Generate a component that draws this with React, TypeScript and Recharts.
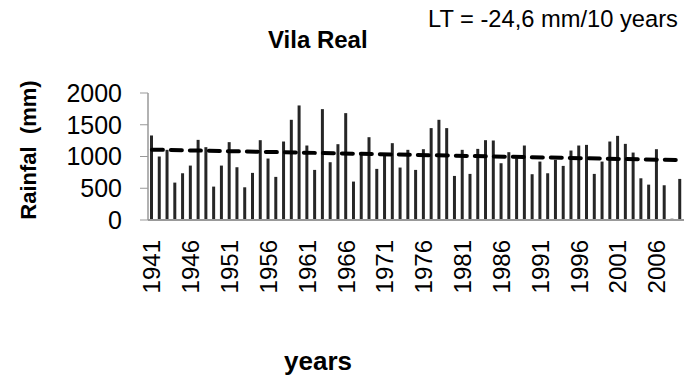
import React from "react";
import { ComposedChart, Bar, Line, XAxis, YAxis } from "recharts";

const years: number[] = [];
for (let y = 1941; y <= 2009; y++) years.push(y);

// annual rainfall (mm)
const rainfall = [
	1331, 1000, 1105, 589, 736, 857, 1262, 1147, 526, 857,
	1226, 831, 515, 742, 1257, 968, 679, 1236, 1578, 1804,
	1173, 789, 1746, 910, 1194, 1683, 605, 1068, 1304, 805,
	1052, 1210, 826, 1105, 789, 1115, 1447, 1578, 1447, 694,
	1105, 726, 1120, 1257, 1252, 894, 1068, 973, 1173, 721,
	920, 736, 947, 852, 1094, 1173, 1183, 726, 920, 1236,
	1325, 1199, 1062, 657, 557, 1115, 547, 20, 647,
];

// linear trend end points (first and last year)
const trendStart = 1108;
const trendEnd = 943;

const yTicks = [0, 500, 1000, 1500, 2000];

const data = years.map((year, i) => ({
	year: String(year),
	rain: rainfall[i],
	trend: i === 0 ? trendStart : i === years.length - 1 ? trendEnd : null,
}));

const font = "'Liberation Sans', Arial, sans-serif";

const YearTick = (props: any) => {
	const { x, y, payload } = props;
	return (
		<text
			x={x}
			y={y}
			transform={`rotate(-90, ${x}, ${y + 10})`}
			dy={10}
			dx={-2}
			textAnchor="end"
			dominantBaseline="central"
			fontSize={24}
			fontFamily={font}
			fill="#000"
		>
			{payload.value}
		</text>
	);
};

const App: React.FC = () => {
	return (
		<div style={{ position: "absolute", left: 0, top: 0, width: 685, height: 387, background: "#fff", fontFamily: font }}>
			<ComposedChart
				width={685}
				height={387}
				data={data}
				margin={{ top: 93, right: 1, bottom: 157, left: 8 }}
			>
				<XAxis
					dataKey="year"
					interval={4}
					tick={<YearTick />}
					tickLine={false}
					axisLine={{ stroke: "#999", strokeWidth: 2 }}
					height={10}
				/>
				<YAxis
					domain={[0, 2000]}
					ticks={yTicks}
					interval={0}
					tick={{ fontSize: 25, fill: "#000", fontFamily: font }}
					tickLine={{ stroke: "#999" }}
					tickSize={8}
					tickMargin={18}
					axisLine={{ stroke: "#999", strokeWidth: 1.5 }}
					width={140}
				/>
				<Bar dataKey="rain" fill="#262626" barSize={3} isAnimationActive={false} />
				<Line
					dataKey="trend"
					connectNulls
					stroke="#000"
					strokeWidth={4}
					strokeDasharray="11 8"
					strokeLinecap="round"
					dot={false}
					isAnimationActive={false}
				/>
			</ComposedChart>
			<div style={{ position: "absolute", left: 268, top: 26, fontSize: 24, fontWeight: "bold", whiteSpace: "nowrap" }}>
				Vila Real
			</div>
			<div style={{ position: "absolute", left: 428, top: 6, fontSize: 23.7, whiteSpace: "nowrap" }}>
				LT = -24,6 mm/10 years
			</div>
			<div
				style={{
					position: "absolute",
					left: 29,
					top: 150,
					transform: "translate(-50%, -50%) rotate(-90deg)",
					fontSize: 22,
					fontWeight: "bold",
					whiteSpace: "pre",
				}}
			>
				Rainfal  (mm)
			</div>
			<div style={{ position: "absolute", left: 318, top: 346, transform: "translateX(-50%)", fontSize: 26, fontWeight: "bold" }}>
				years
			</div>
		</div>
	);
};

export default App;
